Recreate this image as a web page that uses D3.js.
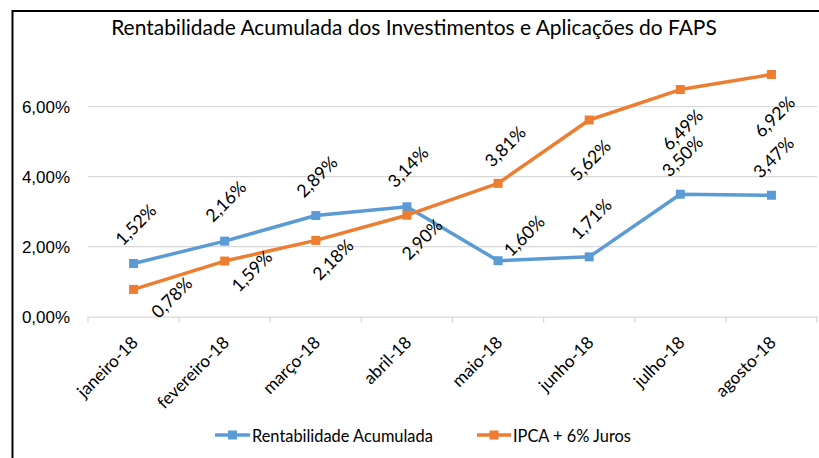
<!DOCTYPE html>
<html>
<head>
<meta charset="utf-8">
<script src="https://cdn.jsdelivr.net/npm/d3@7"></script>
<style>
  html, body { margin: 0; padding: 0; background: #fff; }
  svg { display: block; font-family: Lato, "Open Sans", sans-serif; }
</style>
</head>
<body>
<svg id="chart" width="819" height="458"></svg>
<script>
// ---- data ----
const titleText = "Rentabilidade Acumulada dos Investimentos e Aplicações do FAPS";
const categories = ["janeiro-18", "fevereiro-18", "março-18", "abril-18", "maio-18", "junho-18", "julho-18", "agosto-18"];
const seriesNames = ["Rentabilidade Acumulada", "IPCA + 6% Juros"];
const rentabilidade = [1.52, 2.16, 2.89, 3.14, 1.60, 1.71, 3.50, 3.47];
const ipca = [0.78, 1.59, 2.18, 2.90, 3.81, 5.62, 6.49, 6.92];
const yTicks = [0, 2, 4, 6];

// ---- layout (label nudges, in px, not data) ----
const blueLabelNudge = [[2,-39],[1,-40],[1,-39],[1,-40],[26,-25],[2,-38],[2,-38],[2,-38]];
const orangeLabelNudge = [[38,8],[27,10],[17,19],[15,24],[7,-37],[1,40],[2,40],[3,42]];

const svg = d3.select("#chart");
const W = 819, H = 458;
const colors = ["#5B9BD5", "#ED7D31"];
const fmt = v => v.toFixed(2).replace(".", ",") + "%";

// font-size fitting so that text widths match the reference
function fitSize(str, target) {
  const t = svg.append("text").attr("font-size", 100).text(str);
  const w = t.node().getComputedTextLength();
  t.remove();
  return 100 * target / w;
}
const titleSize = fitSize(titleText, 606);
const ySize = fitSize("6,00%", 47);
const baseSize = fitSize(seriesNames[0], 181);
const catSize = baseSize * 1.05;
const labelSize = baseSize * 1.08;

// border (top and left visible)
svg.append("line").attr("x1", 12.5).attr("x2", W).attr("y1", 11).attr("y2", 11).attr("stroke", "#000").attr("stroke-width", 2);
svg.append("line").attr("x1", 12.5).attr("x2", 12.5).attr("y1", 10).attr("y2", H).attr("stroke", "#000").attr("stroke-width", 2);

const x = d3.scaleBand().domain(categories).range([88, 817]);
const y = d3.scaleLinear().domain([0, 7]).range([316.7, 71.7]);

// title
svg.append("text").attr("x", 414).attr("y", 35).attr("text-anchor", "middle")
  .attr("font-size", titleSize).attr("fill", "#000").text(titleText);

// gridlines
svg.append("g").selectAll("line").data(yTicks.filter(d => d > 0)).join("line")
  .attr("x1", 88).attr("x2", 817).attr("y1", d => y(d)).attr("y2", d => y(d))
  .attr("stroke", "#D9D9D9").attr("stroke-width", 1.3);

// y axis labels
const yAxis = d3.axisLeft(y).tickValues(yTicks).tickSize(0).tickPadding(0).tickFormat(fmt);
const gy = svg.append("g").attr("transform", "translate(70,0)").call(yAxis);
gy.select(".domain").remove();
gy.selectAll("text").attr("font-size", ySize).attr("fill", "#000").attr("font-family", null);

// x axis
const xAxis = d3.axisBottom(x).tickSize(0).tickFormat(d => d);
const gx = svg.append("g").attr("transform", "translate(0,316.7)").call(xAxis);
gx.select(".domain").attr("stroke", "#D9D9D9").attr("stroke-width", 1.3);
gx.selectAll(".tick text").remove();
const bounds = categories.map(c => x(c)).concat([x(categories[categories.length - 1]) + x.bandwidth()]);
gx.selectAll(".bt").data(bounds).join("line").attr("class", "bt")
  .attr("x1", d => d).attr("x2", d => d).attr("y1", 0).attr("y2", 6)
  .attr("stroke", "#D9D9D9").attr("stroke-width", 1.3);

svg.append("g").selectAll("text").data(categories).join("text")
  .attr("transform", d => `translate(${x(d) + x.bandwidth() / 2 + 1},339) rotate(-45)`)
  .attr("text-anchor", "end").attr("dominant-baseline", "central")
  .attr("font-size", catSize).attr("fill", "#000").text(d => d);

// lines
const series = [rentabilidade, ipca];
const line = d3.line().x((d, i) => x(categories[i]) + x.bandwidth() / 2).y(d => y(d));
series.forEach((s, k) => {
  svg.append("path").datum(s).attr("d", line).attr("fill", "none")
    .attr("stroke", colors[k]).attr("stroke-width", 3.5).attr("stroke-linejoin", "round");
});
series.forEach((s, k) => {
  svg.append("g").selectAll("rect").data(s).join("rect")
    .attr("x", (d, i) => x(categories[i]) + x.bandwidth() / 2 - 4.5)
    .attr("y", d => y(d) - 4.5).attr("width", 9).attr("height", 9).attr("fill", colors[k]);
});

// data labels
const nudges = [blueLabelNudge, orangeLabelNudge];
series.forEach((s, k) => {
  svg.append("g").selectAll("text").data(s).join("text")
    .attr("transform", (d, i) => `translate(${x(categories[i]) + x.bandwidth() / 2 + nudges[k][i][0]},${y(d) + nudges[k][i][1]}) rotate(-45)`)
    .attr("text-anchor", "middle").attr("dominant-baseline", "central")
    .attr("font-size", labelSize).attr("fill", "#000").text(d => fmt(d));
});

// legend
const legendItems = [{ x1: 215, x2: 250, tx: 252 }, { x1: 477, x2: 511, tx: 513 }];
legendItems.forEach((l, k) => {
  const g = svg.append("g");
  g.append("line").attr("x1", l.x1).attr("x2", l.x2).attr("y1", 435).attr("y2", 435)
    .attr("stroke", colors[k]).attr("stroke-width", 3.5);
  g.append("rect").attr("x", (l.x1 + l.x2) / 2 - 4.5).attr("y", 430.5).attr("width", 9).attr("height", 9).attr("fill", colors[k]);
  g.append("text").attr("x", l.tx).attr("y", 435).attr("dominant-baseline", "central")
    .attr("font-size", baseSize).attr("fill", "#000").text(seriesNames[k]);
});
</script>
</body>
</html>
